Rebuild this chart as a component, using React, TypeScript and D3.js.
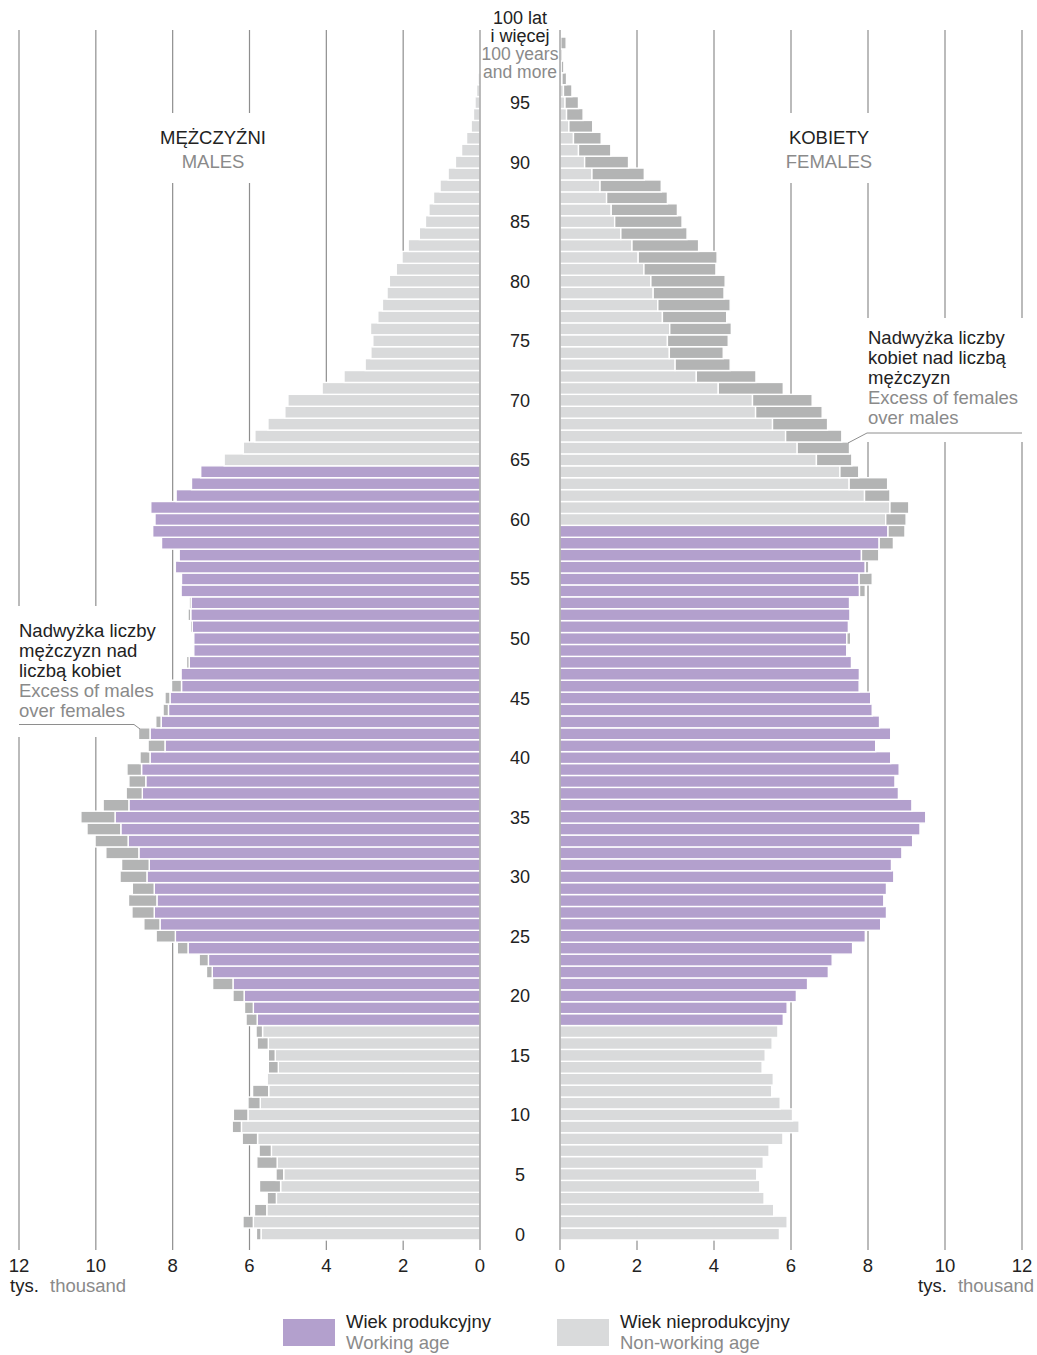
import React from "react";
import * as d3 from "d3";

const ages: number[] = d3.range(0, 101);
const males: number[] = [
  5.82, 6.17, 5.87, 5.54, 5.74, 5.31, 5.81, 5.75, 6.19, 6.45,
  6.42, 6.04, 5.92, 5.56, 5.51, 5.51, 5.80, 5.83, 6.09, 6.13,
  6.43, 6.96, 7.12, 7.31, 7.88, 8.43, 8.75, 9.06, 9.15, 9.05,
  9.37, 9.33, 9.74, 10.02, 10.23, 10.39, 9.81, 9.21, 9.14, 9.19,
  8.85, 8.64, 8.89, 8.44, 8.25, 8.20, 8.03, 7.78, 7.64, 7.45,
  7.45, 7.54, 7.60, 7.57, 7.78, 7.77, 7.93, 7.83, 8.29, 8.52,
  8.46, 8.57, 7.91, 7.51, 7.27, 6.66, 6.16, 5.86, 5.52, 5.08,
  5.00, 4.11, 3.54, 2.99, 2.84, 2.79, 2.85, 2.66, 2.54, 2.42,
  2.36, 2.18, 2.03, 1.87, 1.58, 1.42, 1.33, 1.21, 1.04, 0.83,
  0.64, 0.48, 0.35, 0.23, 0.17, 0.13, 0.09, 0.05, 0.03, 0.02,
  0.02,
];
const females: number[] = [
  5.70, 5.90, 5.55, 5.30, 5.19, 5.11, 5.28, 5.43, 5.79, 6.21,
  6.04, 5.72, 5.50, 5.54, 5.25, 5.33, 5.51, 5.66, 5.80, 5.90,
  6.14, 6.43, 6.97, 7.07, 7.60, 7.93, 8.33, 8.48, 8.41, 8.48,
  8.67, 8.61, 8.88, 9.16, 9.35, 9.50, 9.14, 8.79, 8.70, 8.81,
  8.59, 8.20, 8.59, 8.30, 8.11, 8.07, 7.77, 7.79, 7.57, 7.46,
  7.55, 7.49, 7.53, 7.52, 7.93, 8.11, 8.02, 8.28, 8.66, 8.96,
  8.99, 9.06, 8.57, 8.51, 7.76, 7.58, 7.52, 7.32, 6.95, 6.81,
  6.55, 5.80, 5.09, 4.42, 4.24, 4.37, 4.45, 4.33, 4.42, 4.26,
  4.29, 4.05, 4.08, 3.60, 3.30, 3.17, 3.05, 2.79, 2.63, 2.19,
  1.78, 1.32, 1.07, 0.85, 0.60, 0.48, 0.31, 0.17, 0.10, 0.06,
  0.16,
];
// working age: males 18-64, females 18-59
const maleWorking: [number, number] = [18, 64];
const femaleWorking: [number, number] = [18, 59];
const xTicks: number[] = [0, 2, 4, 6, 8, 10, 12];
const ageLabels: number[] = d3.range(0, 100, 5);

const PURPLE = "#b3a0cd";
const LIGHT = "#d9dadb";
const DARK = "#b3b4b4";
const GRID = "#8e8e8e";
const TXT = "#222";
const GRAY = "#8a8a8a";
const FONT = "'Liberation Sans', Arial, sans-serif";
const FS = 18.5;

export default function App() {
  const W = 1037, H = 1355;
  const xL = d3.scaleLinear().domain([0, 12]).range([480, 19]);
  const xR = d3.scaleLinear().domain([0, 12]).range([560, 1022]);
  const step = 11.91;
  const y = d3
    .scaleBand<number>()
    .domain([...ages].reverse())
    .range([43 - step / 2, 1234 + step / 2])
    .paddingInner(0);
  const bh = y.bandwidth();

  const bars: React.ReactNode[] = [];
  ages.forEach((a, i) => {
    const m = males[i], f = females[i];
    const lo = Math.min(m, f);
    const yy = y(a) as number;
    const mw = a >= maleWorking[0] && a <= maleWorking[1];
    const fw = a >= femaleWorking[0] && a <= femaleWorking[1];
    bars.push(
      <rect key={"m" + a} x={xL(lo)} y={yy} width={xL(0) - xL(lo)} height={bh}
        fill={mw ? PURPLE : LIGHT} stroke="#fff" strokeWidth={1.4} />
    );
    bars.push(
      <rect key={"f" + a} x={xR(0)} y={yy} width={xR(lo) - xR(0)} height={bh}
        fill={fw ? PURPLE : LIGHT} stroke="#fff" strokeWidth={1.4} />
    );
    if (m > f) {
      bars.push(
        <rect key={"me" + a} x={xL(m)} y={yy} width={xL(f) - xL(m)} height={bh}
          fill={DARK} stroke="#fff" strokeWidth={1.4} />
      );
    } else if (f > m) {
      bars.push(
        <rect key={"fe" + a} x={xR(m)} y={yy} width={xR(f) - xR(m)} height={bh}
          fill={DARK} stroke="#fff" strokeWidth={1.4} />
      );
    }
  });

  const line = d3.line();

  return (
    <svg width={W} height={H} style={{ position: "absolute", left: 0, top: 0, background: "#fff" }}
      fontFamily={FONT}>
      <rect x={0} y={0} width={W} height={H} fill="#fff" />
      {xTicks.filter((t) => t > 0).map((t) => (
        <g key={"g" + t}>
          <line x1={xL(t)} x2={xL(t)} y1={30} y2={1250} stroke={GRID} strokeWidth={1.2} />
          <line x1={xR(t)} x2={xR(t)} y1={30} y2={1250} stroke={GRID} strokeWidth={1.2} />
        </g>
      ))}
      <rect x={152} y={113} width={122} height={70} fill="#fff" />
      <rect x={778} y={113} width={100} height={70} fill="#fff" />
      <rect x={10} y={606} width={156} height={131} fill="#fff" />
      <rect x={860} y={318} width={175} height={124} fill="#fff" />
      {bars}
      <line x1={xL(0)} x2={xL(0)} y1={30} y2={1250} stroke={GRID} strokeWidth={1.2} />
      <line x1={xR(0)} x2={xR(0)} y1={30} y2={1250} stroke={GRID} strokeWidth={1.2} />

      {ageLabels.map((a) => (
        <text key={"a" + a} x={520} y={(y(a) as number) + bh / 2 + 6.5} textAnchor="middle"
          fontSize={18} fill={TXT}>{a}</text>
      ))}
      <g textAnchor="middle" fontSize={17.5}>
        <text x={520} y={24} fill={TXT} fontSize={18}>100 lat</text>
        <text x={520} y={42} fill={TXT} fontSize={18}>i więcej</text>
        <text x={520} y={60} fill={GRAY}>100 years</text>
        <text x={520} y={78} fill={GRAY}>and more</text>
      </g>

      <g textAnchor="middle" fontSize={FS}>
        <text x={213} y={144} fill={TXT}>MĘŻCZYŹNI</text>
        <text x={213} y={168} fill={GRAY}>MALES</text>
        <text x={829} y={144} fill={TXT}>KOBIETY</text>
        <text x={829} y={168} fill={GRAY}>FEMALES</text>
      </g>

      <g fontSize={FS}>
        <text x={19} y={637} fill={TXT}>Nadwyżka liczby</text>
        <text x={19} y={657} fill={TXT}>mężczyzn nad</text>
        <text x={19} y={677} fill={TXT}>liczbą kobiet</text>
        <text x={19} y={697} fill={GRAY}>Excess of males</text>
        <text x={19} y={717} fill={GRAY}>over females</text>
      </g>
      <path d={line([[19, 724.5], [134, 724.5], [140, 729]]) || ""} fill="none" stroke={GRID} strokeWidth={1} />

      <g fontSize={FS}>
        <text x={868} y={344} fill={TXT}>Nadwyżka liczby</text>
        <text x={868} y={364} fill={TXT}>kobiet nad liczbą</text>
        <text x={868} y={384} fill={TXT}>mężczyzn</text>
        <text x={868} y={404} fill={GRAY}>Excess of females</text>
        <text x={868} y={424} fill={GRAY}>over males</text>
      </g>
      <path d={line([[1022, 433], [867, 433], [848, 443]]) || ""} fill="none" stroke={GRID} strokeWidth={1} />

      {xTicks.map((t) => (
        <g key={"t" + t}>
          <text x={xL(t)} y={1272} textAnchor="middle" fontSize={FS} fill={TXT}>{t}</text>
          <text x={xR(t)} y={1272} textAnchor="middle" fontSize={FS} fill={TXT}>{t}</text>
        </g>
      ))}
      <text x={10} y={1292} fontSize={FS} fill={TXT}>tys.</text>
      <text x={50} y={1292} fontSize={FS} fill={GRAY}>thousand</text>
      <text x={918} y={1292} fontSize={FS} fill={TXT}>tys.</text>
      <text x={1034} y={1292} fontSize={FS} fill={GRAY} textAnchor="end">thousand</text>

      <rect x={283} y={1319} width={52} height={27} fill={PURPLE} />
      <text x={346} y={1328} fontSize={FS} fill={TXT}>Wiek produkcyjny</text>
      <text x={346} y={1349} fontSize={FS} fill={GRAY}>Working age</text>
      <rect x={557} y={1319} width={52} height={27} fill={LIGHT} />
      <text x={620} y={1328} fontSize={FS} fill={TXT}>Wiek nieprodukcyjny</text>
      <text x={620} y={1349} fontSize={FS} fill={GRAY}>Non-working age</text>
    </svg>
  );
}
